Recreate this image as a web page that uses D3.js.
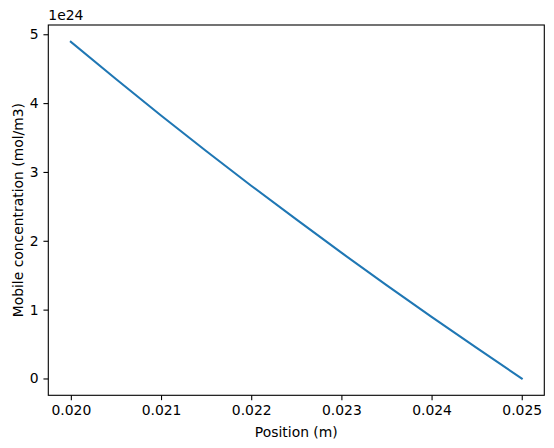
<!DOCTYPE html>
<html>
<head>
<meta charset="utf-8">
<script src="https://cdn.jsdelivr.net/npm/d3@7"></script>
<style>
  body { margin: 0; background: #fff; }
  svg text { font-family: "DejaVu Sans", sans-serif; fill: #000; }
</style>
</head>
<body>
<svg id="chart" width="554" height="448"></svg>
<script>
// values
var positions = [0.0200, 0.0205, 0.0210, 0.0215, 0.0220, 0.0225, 0.0230, 0.0235, 0.0240, 0.0245, 0.0250];
var concentrations = [4.89e24, 4.35e24, 3.82e24, 3.305e24, 2.80e24, 2.31e24, 1.827e24, 1.356e24, 0.895e24, 0.443e24, 0];
var xTicks = [0.020, 0.021, 0.022, 0.023, 0.024, 0.025];
var yTicks = [0, 1e24, 2e24, 3e24, 4e24, 5e24];
var yOffsetLabel = "1e24";
var xTitle = "Position (m)";
var yTitle = "Mobile concentration (mol/m3)";

var margin = {left: 48.3, top: 25, w: 496, h: 370.3};
var fontPx = 13.9, tickLen = 4.86;

var svg = d3.select("#chart");

var data = positions.map(function(p, i){ return {x: p, y: concentrations[i]}; });

// matplotlib style 5% margins
var xExt = d3.extent(positions), yExt = d3.extent(concentrations);
var xPad = (xExt[1] - xExt[0]) * 0.05, yPad = (yExt[1] - yExt[0]) * 0.05;

var x = d3.scaleLinear()
	.domain([xExt[0] - xPad, xExt[1] + xPad])
	.range([margin.left, margin.left + margin.w]);
var y = d3.scaleLinear()
	.domain([yExt[0] - yPad, yExt[1] + yPad])
	.range([margin.top + margin.h, margin.top]);

var xAxis = d3.axisBottom(x)
	.tickValues(xTicks)
	.tickSize(tickLen)
	.tickPadding(4.86)
	.tickFormat(d3.format(".3f"));

var yAxis = d3.axisLeft(y)
	.tickValues(yTicks)
	.tickSize(tickLen)
	.tickPadding(4.86)
	.tickFormat(function(d){ return d3.format("d")(Math.round(d / 1e24)); });

var gx = svg.append("g")
	.attr("transform", "translate(0," + (margin.top + margin.h) + ")")
	.call(xAxis);
var gy = svg.append("g")
	.attr("transform", "translate(" + margin.left + ",0)")
	.call(yAxis);

[gx, gy].forEach(function(g){
	g.select(".domain").remove();
	g.selectAll(".tick line").attr("stroke", "#000").attr("stroke-width", 1.1);
	g.selectAll(".tick text")
		.attr("font-family", "DejaVu Sans, sans-serif")
		.attr("font-size", fontPx)
		.attr("fill", "#000");
});

// the line
var line = d3.line()
	.x(function(d){ return x(d.x); })
	.y(function(d){ return y(d.y); });

svg.append("path")
	.datum(data)
	.attr("d", line)
	.attr("fill", "none")
	.attr("stroke", "#1f77b4")
	.attr("stroke-width", 2.08)
	.attr("stroke-linecap", "square")
	.attr("stroke-linejoin", "round");

// axes frame
svg.append("rect")
	.attr("x", margin.left)
	.attr("y", margin.top)
	.attr("width", margin.w)
	.attr("height", margin.h)
	.attr("fill", "none")
	.attr("stroke", "#000")
	.attr("stroke-width", 1.1);

// offset text
svg.append("text")
	.attr("x", margin.left)
	.attr("y", margin.top - 5)
	.attr("font-size", fontPx)
	.text(yOffsetLabel);

// axis titles
svg.append("text")
	.attr("x", margin.left + margin.w / 2)
	.attr("y", 437)
	.attr("text-anchor", "middle")
	.attr("font-size", fontPx)
	.text(xTitle);

svg.append("text")
	.attr("transform", "translate(22.5," + (margin.top + margin.h / 2) + ") rotate(-90)")
	.attr("text-anchor", "middle")
	.attr("font-size", fontPx)
	.text(yTitle);
</script>
</body>
</html>
